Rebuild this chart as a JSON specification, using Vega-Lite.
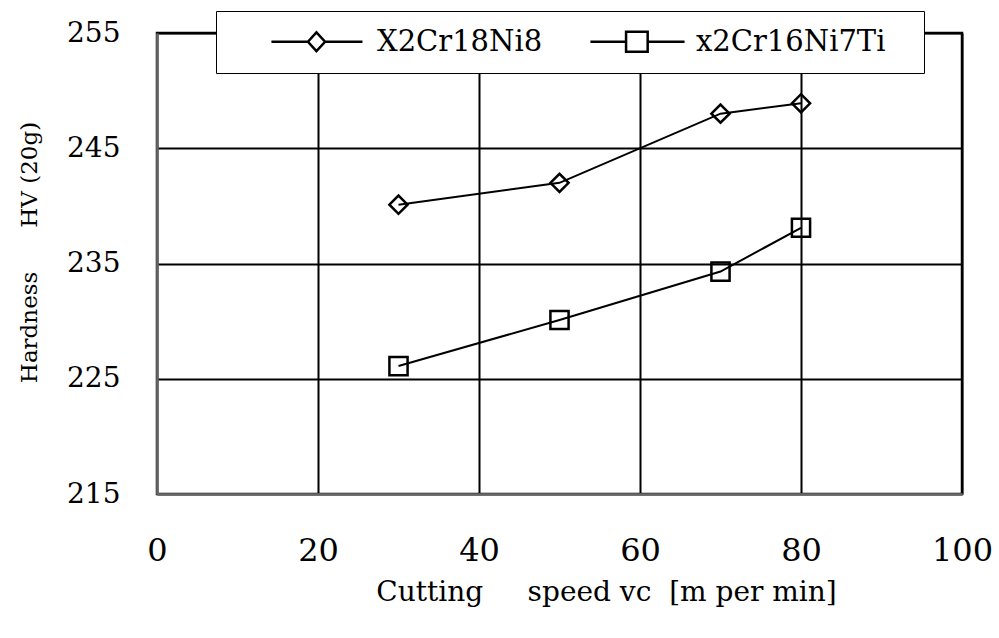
{
  "$schema": "https://vega.github.io/schema/vega-lite/v6.json",
  "width": 805,
  "height": 461,
  "autosize": {"type": "none"},
  "padding": {"left": 157, "top": 33, "right": 37, "bottom": 144},
  "background": "white",
  "config": {"view": {"stroke": "black", "strokeWidth": 2.5}, "font": "DejaVu Serif"},
  "data": {
    "values": [
      {"series": "X2Cr18Ni8", "speed": 30, "hardness": 240.1},
      {"series": "X2Cr18Ni8", "speed": 50, "hardness": 242.0},
      {"series": "X2Cr18Ni8", "speed": 70, "hardness": 248.0},
      {"series": "X2Cr18Ni8", "speed": 80, "hardness": 248.9},
      {"series": "x2Cr16Ni7Ti", "speed": 30, "hardness": 226.1},
      {"series": "x2Cr16Ni7Ti", "speed": 50, "hardness": 230.1},
      {"series": "x2Cr16Ni7Ti", "speed": 70, "hardness": 234.3},
      {"series": "x2Cr16Ni7Ti", "speed": 80, "hardness": 238.1}
    ]
  },
  "encoding": {
    "x": {
      "field": "speed", "type": "quantitative",
      "scale": {"domain": [0, 100], "nice": false},
      "axis": {
        "values": [0, 20, 40, 60, 80, 100],
        "title": "Cutting\u00a0\u00a0\u00a0\u00a0\u00a0speed vc\u00a0\u00a0[m per min]",
        "titleFont": "DejaVu Serif", "titleFontSize": 28, "titleFontWeight": "normal", "titleColor": "black",
        "titleX": 449, "titleY": 106, "titleBaseline": "alphabetic", "titleAlign": "center",
        "labelFont": "DejaVu Serif", "labelFontSize": 32, "labelColor": "black", "labelPadding": 41,
        "labelFlush": false,
        "ticks": false, "tickSize": 0,
        "domainColor": "#666", "domainWidth": 2.5,
        "grid": true, "gridWidth": 2,
        "gridColor": {"condition": {"test": "datum.value === 0", "value": "#666"}, "value": "black"}
      }
    },
    "y": {
      "field": "hardness", "type": "quantitative",
      "scale": {"domain": [215, 255], "nice": false, "zero": false},
      "axis": {
        "values": [215, 225, 235, 245, 255],
        "title": "Hardness\u00a0\u00a0\u00a0\u00a0\u00a0\u00a0HV (20g)",
        "titleFont": "DejaVu Serif", "titleFontSize": 23, "titleFontWeight": "normal", "titleColor": "black",
        "titleX": -116, "titleY": 219, "titleBaseline": "bottom", "titleAlign": "center", "titleAngle": 270,
        "labelFont": "DejaVu Serif", "labelFontSize": 28, "labelColor": "black", "labelPadding": 37,
        "labelFlush": false,
        "ticks": false, "tickSize": 0,
        "domainColor": "#666", "domainWidth": 2.5,
        "grid": true, "gridWidth": 2,
        "gridColor": {"condition": {"test": "datum.value === 215", "value": "#666"}, "value": "black"}
      }
    }
  },
  "layer": [
    {
      "mark": {"type": "line", "color": "black", "strokeWidth": 2},
      "encoding": {"detail": {"field": "series"}}
    },
    {
      "mark": {"type": "point", "filled": false, "color": "black", "strokeWidth": 2.5, "size": 330, "opacity": 1},
      "encoding": {
        "shape": {
          "field": "series",
          "scale": {"domain": ["X2Cr18Ni8", "x2Cr16Ni7Ti"], "range": ["diamond", "square"]},
          "legend": null
        }
      }
    },
    {
      "mark": {"type": "point", "filled": false, "color": "black", "strokeWidth": 2, "opacity": 0},
      "encoding": {
        "shape": {
          "field": "series",
          "scale": {
            "domain": ["X2Cr18Ni8", "x2Cr16Ni7Ti"],
            "range": [
              "M-1,-1M2.77,0L6.83,0M8.73,0L12.89,0M7.77,-1.05L8.73,0L7.77,1.05L6.83,0Z",
              "M-1,-1M37.5,0M2.77,0L6.73,0M9.13,0L13.23,0M6.73,-1.1L9.13,-1.1L9.13,1.1L6.73,1.1Z"
            ]
          },
          "legend": {
            "orient": "none",
            "legendX": 59,
            "legendY": -22,
            "direction": "horizontal",
            "title": null,
            "symbolSize": 324,
            "symbolStrokeWidth": 2.5,
            "symbolStrokeColor": "black",
            "symbolFillColor": "transparent",
            "symbolOpacity": 1,
            "labelFont": "DejaVu Serif",
            "labelFontSize": 29,
            "labelColor": "black",
            "labelOffset": 116,
            "labelLimit": 400,
            "columnPadding": 8,
            "padding": 16,
            "strokeColor": "black",
            "fillColor": "white",
            "encode": {"legend": {"update": {"strokeWidth": {"value": 2.5}}}}
          }
        }
      }
    }
  ],
  "resolve": {"scale": {"shape": "independent"}, "legend": {"shape": "independent"}}
}
